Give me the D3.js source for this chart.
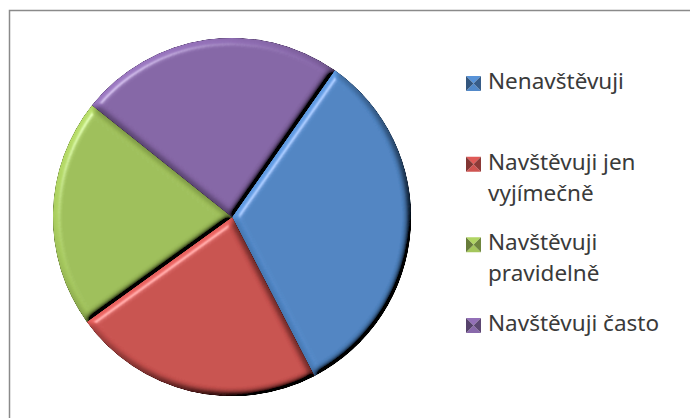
<!DOCTYPE html>
<html>
<head>
  <meta charset="utf-8">
  <script src="https://d3js.org/d3.v7.min.js"></script>
  <style>
  body { margin: 0; background: #fff; }
  .legend text {
    font-family: "Noto Sans", "Open Sans", sans-serif;
    font-size: 22.5px;
    fill: #3a3a3a;
  }
  </style>
</head>
<body>
<script>
// data
var categories = ["Nenavštěvuji", "Navštěvuji jen vyjímečně", "Navštěvuji pravidelně", "Navštěvuji často"];
var values = [49, 34, 31, 36];
var colors = ["#4f84c2", "#c8514e", "#9ebf59", "#8465a5"];

var width = 690, height = 418;
var cx = 232, cy = 217, radius = 179;

var svg = d3.select("body").append("svg")
  .attr("width", width)
  .attr("height", height);

var defs = svg.append("defs");

// bevel look: diffuse light from the upper left + a thin specular line
var f = defs.append("filter").attr("id", "bevel")
  .attr("x", "-5%").attr("y", "-5%").attr("width", "110%").attr("height", "110%");
f.append("feGaussianBlur").attr("in", "SourceAlpha").attr("stdDeviation", 3.5).attr("result", "blur");
f.append("feDiffuseLighting").attr("in", "blur").attr("surfaceScale", 6.5)
  .attr("diffuseConstant", 0.707).attr("lighting-color", "#fff").attr("result", "light")
  .append("feDistantLight").attr("azimuth", 225).attr("elevation", 45);
f.append("feComposite").attr("in", "SourceGraphic").attr("in2", "light")
  .attr("operator", "arithmetic").attr("k1", 2).attr("k2", 0).attr("k3", 0).attr("k4", 0)
  .attr("result", "lit");
f.append("feSpecularLighting").attr("in", "blur").attr("surfaceScale", 7)
  .attr("specularConstant", 0.6).attr("specularExponent", 30)
  .attr("lighting-color", "#fff").attr("result", "spec")
  .append("feDistantLight").attr("azimuth", 225).attr("elevation", 35);
f.append("feComposite").attr("in", "spec").attr("in2", "SourceAlpha")
  .attr("operator", "in").attr("result", "specIn");
f.append("feComposite").attr("in", "lit").attr("in2", "specIn")
  .attr("operator", "arithmetic").attr("k1", 0).attr("k2", 1).attr("k3", 0.5).attr("k4", 0);

// frame
svg.append("rect")
  .attr("x", 9.5).attr("y", 10.5)
  .attr("width", 700).attr("height", 430)
  .attr("fill", "none")
  .attr("stroke", "#8a8a8a")
  .attr("stroke-width", 1.5);

var start = 35 * Math.PI / 180;
var pie = d3.pie().sort(null).startAngle(start).endAngle(start + 2 * Math.PI);
var arc = d3.arc().innerRadius(0).outerRadius(radius);

var g = svg.append("g").attr("transform", "translate(" + cx + "," + cy + ")");

g.selectAll("path.slice")
  .data(pie(values))
  .enter().append("path")
  .attr("class", "slice")
  .attr("d", arc)
  .attr("fill", function(d, i) { return colors[i]; })
  .attr("filter", "url(#bevel)");

// legend
var ly = d3.scalePoint().domain(categories).range([89, 331]);

var legend = svg.append("g").attr("class", "legend")
  .selectAll("g")
  .data(categories)
  .enter().append("g")
  .attr("transform", function(d) { return "translate(466," + ly(d) + ")"; });

var m = 15;
legend.each(function(d, i) {
  var el = d3.select(this);
  var c = d3.color(colors[i]);
  var mk = el.append("g").attr("transform", "translate(0," + (-13) + ")");
  var tris = [
    { p: [[0,0],[m,0],[m/2,m/2]], col: c.brighter(0.3) },
    { p: [[0,m],[m,m],[m/2,m/2]], col: c.brighter(0.1) },
    { p: [[0,0],[0,m],[m/2,m/2]], col: c.darker(1.2) },
    { p: [[m,0],[m,m],[m/2,m/2]], col: c.darker(1.0) }
  ];
  mk.selectAll("path").data(tris).enter().append("path")
    .attr("d", function(t) { return "M" + t.p.join("L") + "Z"; })
    .attr("fill", function(t) { return t.col; });

  // wrap text to the legend width
  var words = d.split(" ");
  var text = el.append("text").attr("x", 22).attr("y", 0);
  var line = [];
  var tspan = text.append("tspan").attr("x", 22).attr("dy", 0);
  words.forEach(function(w) {
    line.push(w);
    tspan.text(line.join(" "));
    if (tspan.node().getComputedTextLength() > 185 && line.length > 1) {
      line.pop();
      tspan.text(line.join(" "));
      line = [w];
      tspan = text.append("tspan").attr("x", 22).attr("dy", 31).text(w);
    }
  });
});
</script>
</body>
</html>
